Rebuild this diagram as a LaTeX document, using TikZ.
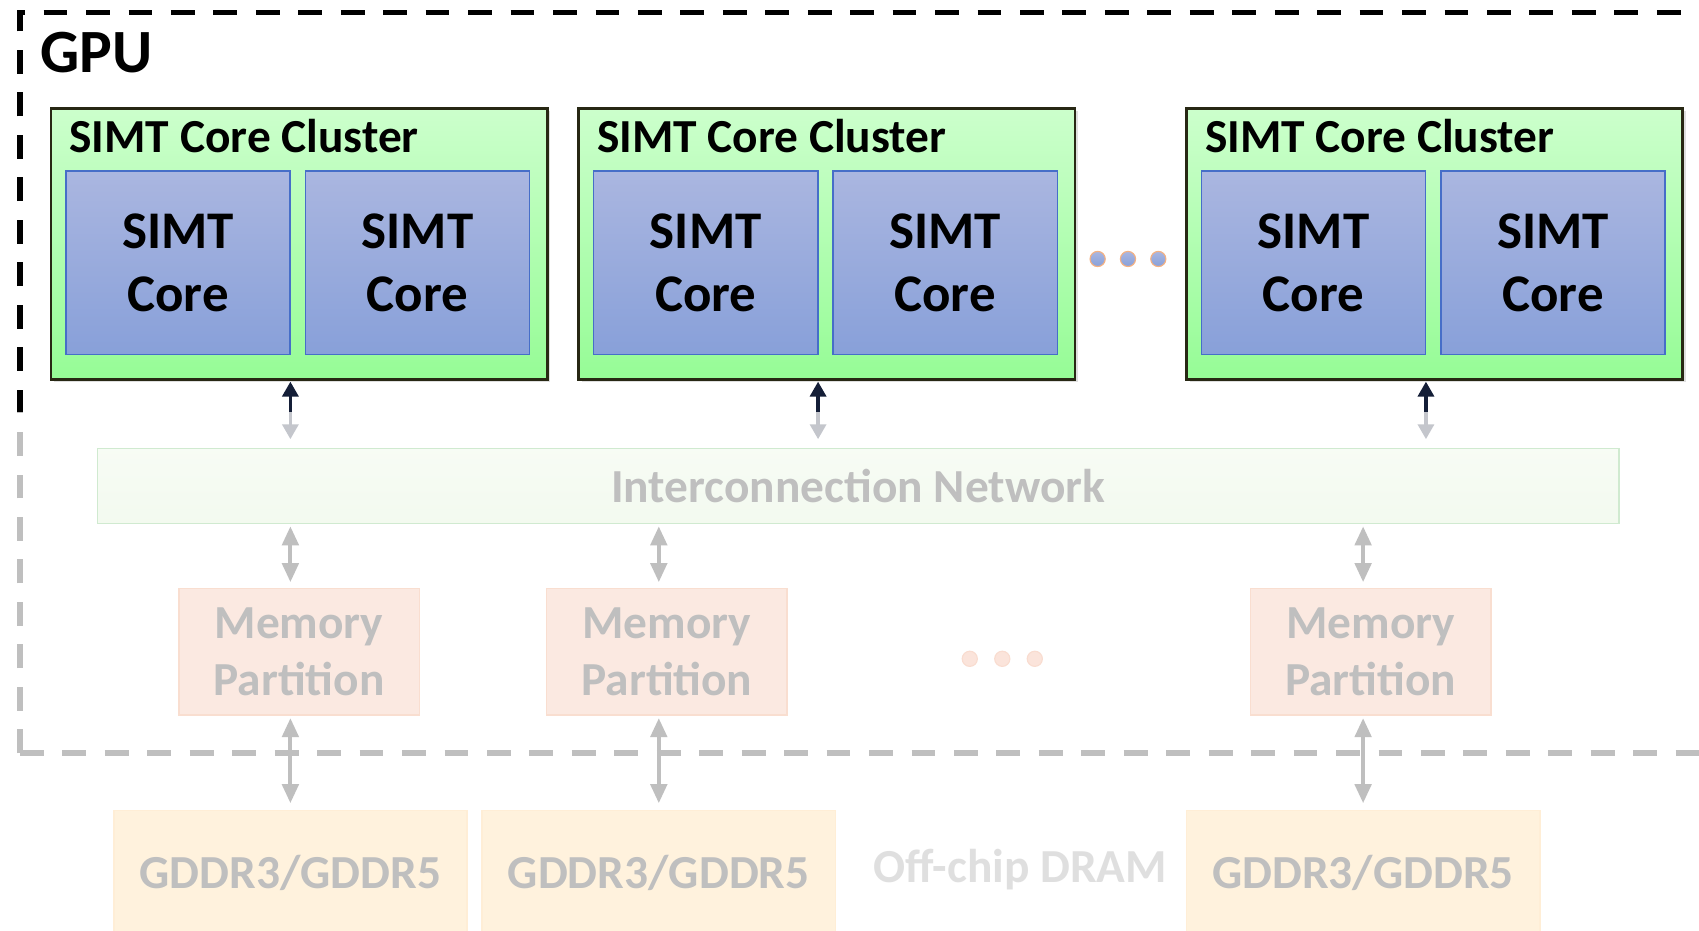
\documentclass[tikz,border=0pt]{standalone}
\usepackage{fontspec}
\setmainfont{Carlito}
\usetikzlibrary{arrows.meta,shadows,calc}

% lengths given in drawing units (1 unit = 0.02cm)
\newcommand\pxl[1]{#1*0.02cm}

\definecolor{clustertop}{RGB}{204,255,204}
\definecolor{clusterbot}{RGB}{150,252,150}
\definecolor{clusterline}{RGB}{40,40,20}
\definecolor{coretop}{RGB}{170,182,224}
\definecolor{corebot}{RGB}{136,160,217}
\definecolor{coreline}{RGB}{70,110,200}
\definecolor{dotline}{RGB}{244,177,131}
\definecolor{linkdark}{RGB}{20,30,55}
\definecolor{nettop}{RGB}{226,244,216}
\definecolor{netbot}{RGB}{208,236,194}
\definecolor{netline}{RGB}{70,175,70}
\definecolor{mpfill}{RGB}{240,168,136}
\definecolor{mpline}{RGB}{235,125,70}
\definecolor{dramfill}{RGB}{255,206,122}
\definecolor{dramline}{RGB}{255,190,95}
\definecolor{mdotfill}{RGB}{240,150,112}
\definecolor{mdotline}{RGB}{232,118,68}
\definecolor{offchip}{RGB}{130,130,130}

\tikzset{
  gpuframe/.style={draw=black, line width=3pt, dash pattern=on 12.5pt off 9.8pt},
  cluster/.style={draw=clusterline, line width=1.4pt, top color=clustertop,
    bottom color=clusterbot, minimum width=\pxl{458}, minimum height=\pxl{250},
    inner sep=0pt, drop shadow={shadow xshift=1.6pt, shadow yshift=-1.6pt, opacity=0.25}},
  core/.style={draw=coreline, line width=0.8pt, top color=coretop, bottom color=corebot,
    minimum width=\pxl{207}, minimum height=\pxl{169}, inner sep=0pt, align=center,
    font=\fontsize{27.8}{32.9}\selectfont\bfseries},
  ctitle/.style={anchor=base west, inner sep=0pt, font=\fontsize{24.9}{28}\selectfont\bfseries},
  cdot/.style={circle, draw=dotline, line width=0.6pt, top color=coretop, bottom color=corebot,
    minimum size=\pxl{14}, inner sep=0pt},
  mdot/.style={circle, draw=mdotline, line width=0.6pt, fill=mdotfill,
    minimum size=\pxl{14}, inner sep=0pt},
  network/.style={draw=netline, line width=0.8pt, top color=nettop, bottom color=netbot,
    minimum width=\pxl{1404}, minimum height=\pxl{69}, inner sep=0pt,
    font=\fontsize{24.9}{28}\selectfont\bfseries},
  mempart/.style={draw=mpline, line width=0.8pt, fill=mpfill, minimum width=\pxl{222},
    minimum height=\pxl{117}, inner sep=0pt, align=center,
    font=\fontsize{24.9}{29.5}\selectfont\bfseries},
  dram/.style={draw=dramline, line width=0.8pt, fill=dramfill, minimum width=\pxl{326},
    minimum height=\pxl{114}, inner sep=0pt, text depth=0pt,
    font=\fontsize{24.9}{28}\selectfont\bfseries},
  uplink/.style={draw=linkdark, line width=1.7pt,
    {Triangle[width=8.4pt,length=7.8pt]}-{Triangle[width=8.4pt,length=7.8pt]}},
  memlink/.style={draw=black, line width=2.2pt,
    {Triangle[width=8.5pt,length=10pt]}-{Triangle[width=8.5pt,length=10pt]}},
}

\begin{document}
\begin{tikzpicture}[x=0.02cm, y=-0.02cm]
\useasboundingbox (0,0) rectangle (1568,859);
\clip (0,0) rectangle (1568,859);

% chip boundary (runs off the right edge) and its label
\coordinate (gpubl) at (18.5,695);
\draw[gpuframe] (gpubl) -- (18.5,11.5) -- (1640,11.5);
\draw[gpuframe] (gpubl) -- (1640,695);
\node[anchor=base west, inner sep=0pt, font=\fontsize{32.3}{36}\selectfont\bfseries] (gpu) at (37,67) {GPU};

% core clusters, each with two cores
\foreach \n/\x in {1/276, 2/763, 3/1324} {
  \node[cluster] (c\n) at (\x,225) {};
  \node[core] (c\n a) at ($(c\n.west)+(118.5,17.5)$) {SIMT\\Core};
  \node[core] (c\n b) at ($(c\n.west)+(339.5,17.5)$) {SIMT\\Core};
  \node[ctitle] (t\n) at ($(c\n.west)+(18,-84)$) {SIMT Core Cluster};
}

% more clusters
\node[cdot] (d1) at (1013,239) {};
\node[cdot] (d2) at (1041,239) {};
\node[cdot] (d3) at (1069,239) {};

% interconnect
\node[network] (net) at (792,448.5) {Interconnection Network};

% memory partitions
\node[mempart] (m1) at (276,601.5) {Memory\\Partition};
\node[mempart] (m2) at (615.5,601.5) {Memory\\Partition};
\node[mempart] (m3) at (1265,601.5) {Memory\\Partition};
\node[mdot] (e1) at (895,608) {};
\node[mdot] (e2) at (925,608) {};
\node[mdot] (e3) at (955,608) {};

% off-chip DRAM devices
\node[dram] (g1) at (268,805) {GDDR3/GDDR5};
\node[dram] (g2) at (608,805) {GDDR3/GDDR5};
\node[dram] (g3) at (1258,805) {GDDR3/GDDR5};
\node[anchor=base, inner sep=0pt, text=offchip, font=\fontsize{24.9}{28}\selectfont\bfseries] (off) at (941.5,814) {Off-chip DRAM};

% cluster <-> interconnect
\draw[uplink, shorten <=\pxl{1}, shorten >=\pxl{8}] ($(c1.south)+(-8,0)$) -- ($(c1.south|-net.north)+(-8,0)$);
\draw[uplink, shorten <=\pxl{1}, shorten >=\pxl{8}] ($(c2.south)+(-8,0)$) -- ($(c2.south|-net.north)+(-8,0)$);
\draw[uplink, shorten <=\pxl{1}, shorten >=\pxl{8}] ($(c3.south)+(-8,0)$) -- ($(c3.south|-net.north)+(-8,0)$);

% interconnect <-> memory partitions <-> DRAM
\foreach \n in {1,2,3} {
  \draw[memlink, shorten <=\pxl{2}, shorten >=\pxl{5}] (g\n.north|-net.south) -- (g\n.north|-m\n.north);
  \draw[memlink, shorten <=\pxl{2}, shorten >=\pxl{6}] (g\n.north|-m\n.south) -- (g\n.north);
}

% everything below the cluster row is shown greyed out
\fill[white, fill opacity=0.75] (0,380) rectangle (1568,859);
\end{tikzpicture}
\end{document}
